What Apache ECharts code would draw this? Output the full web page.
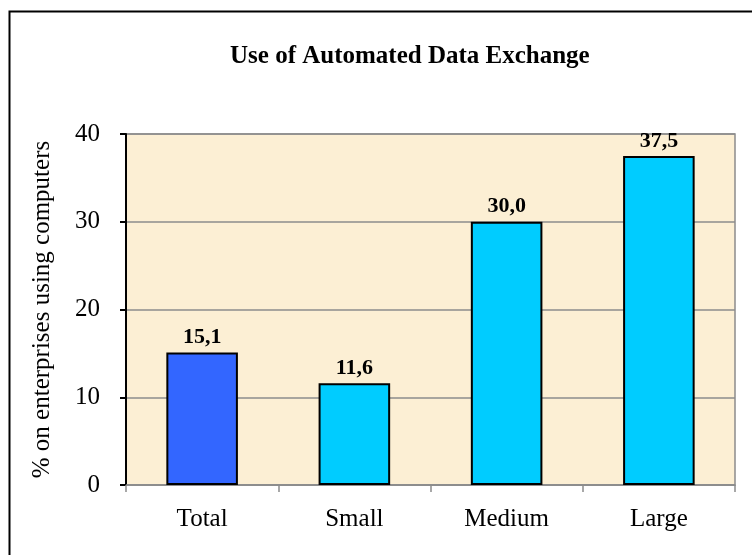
<!DOCTYPE html>
<html>
<head>
<meta charset="utf-8">
<script src="https://cdn.jsdelivr.net/npm/echarts@6/dist/echarts.min.js"></script>
<style>
  html, body { margin: 0; padding: 0; background: #fff; }
  #chart { width: 752px; height: 555px; }
</style>
</head>
<body>
<div id="chart"></div>
<script>
// chart data
const categories = ['Total', 'Small', 'Medium', 'Large']
const values = [15.1, 11.6, 30.0, 37.5]
const barColors = ['#3366FF', '#00CCFF', '#00CCFF', '#00CCFF']
const yTicks = [0, 10, 20, 30, 40]

const myChart = echarts.init(document.getElementById('chart'))

const serif = '"Liberation Serif", "DejaVu Serif", serif'

const options = {
  backgroundColor: '#ffffff',
  animation: false,
  title: {
    text: 'Use of Automated Data Exchange',
    left: 225,
    top: 39,
    textStyle: { fontFamily: serif, fontSize: 25, fontWeight: 'bold', color: '#000' }
  },
  // outer frame, runs off the right and bottom edges like the original
  graphic: [{
    type: 'rect',
    shape: { x: 9.5, y: 11.5, width: 760, height: 560 },
    style: { fill: 'none', stroke: '#000', lineWidth: 2 },
    z: 100
  }],
  grid: {
    left: 126, right: 17, top: 134, bottom: 70,
    show: true,
    backgroundColor: '#FCEFD4',
    borderColor: '#8c8c8c',
    borderWidth: 1.5
  },
  xAxis: {
    type: 'category',
    data: categories,
    axisLine: { lineStyle: { color: '#8c8c8c', width: 1.5 } },
    axisTick: { show: true, length: 7, lineStyle: { color: '#8c8c8c', width: 1.5 } },
    axisLabel: { fontFamily: serif, fontSize: 25, color: '#000', margin: 22 }
  },
  yAxis: {
    type: 'value',
    min: 0, max: 40, interval: 10,
    name: '% on enterprises using computers',
    nameLocation: 'middle',
    nameGap: 71,
    nameTextStyle: { fontFamily: serif, fontSize: 25, color: '#000' },
    axisLine: { show: true, lineStyle: { color: '#000', width: 2 } },
    axisTick: { show: true, length: 6, lineStyle: { color: '#000', width: 2 } },
    axisLabel: {
      fontFamily: serif, fontSize: 25, color: '#000', margin: 26,
      formatter: (v) => yTicks.includes(v) ? String(v) : ''
    },
    splitLine: { lineStyle: { color: '#8c8c8c', width: 1.5 } }
  },
  series: [{
    type: 'bar',
    barWidth: '47%',
    data: values.map((v, i) => ({
      value: v,
      itemStyle: { color: barColors[i], borderColor: '#000', borderWidth: 2 }
    })),
    label: {
      show: true,
      position: 'top',
      distance: 4,
      fontFamily: serif,
      fontSize: 22,
      fontWeight: 'bold',
      color: '#000',
      formatter: (p) => p.value.toFixed(1).replace('.', ',')
    }
  }]
}

myChart.setOption(options)
</script>
</body>
</html>
